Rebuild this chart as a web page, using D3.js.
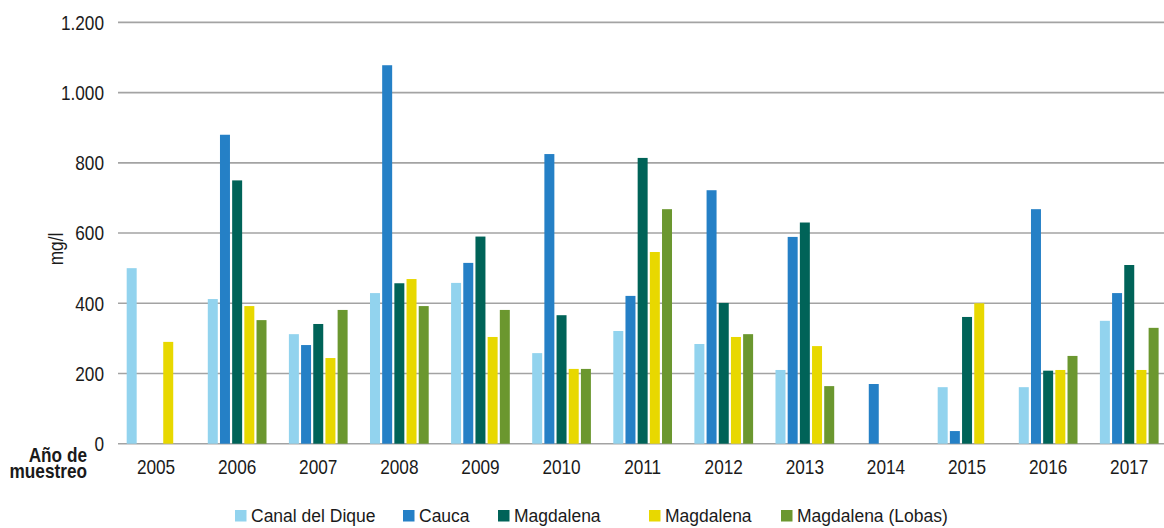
<!DOCTYPE html>
<html>
<head>
<meta charset="utf-8">
<script src="https://cdn.jsdelivr.net/npm/d3@7/dist/d3.min.js"></script>
<style>
  html, body { margin: 0; padding: 0; background: #fff; }
  svg { display: block; }
  text { font-family: "Liberation Sans", Arial, sans-serif; }
</style>
</head>
<body>
<svg id="chart" width="1164" height="528"></svg>
<script>
// Sampling years
const years = ["2005","2006","2007","2008","2009","2010","2011","2012","2013","2014","2015","2016","2017"];

// Series names as shown in the legend
const seriesNames = ["Canal del Dique", "Cauca", "Magdalena", "Magdalena", "Magdalena (Lobas)"];

// Concentrations (mg/l); null = no sample that year
const canalDelDique   = [500, 412, 312, 429, 458, 258, 321, 284, 210, null, 161, 161, 350];
const cauca           = [null, 880, 281, 1078, 515, 825, 421, 722, 589, 170, 36, 668, 429];
const magdalena       = [null, 750, 341, 457, 590, 366, 814, 401, 630, null, 361, 208, 509];
const magdalena2      = [290, 392, 244, 469, 304, 213, 546, 304, 278, null, 400, 210, 210];
const magdalenaLobas  = [null, 352, 381, 392, 381, 213, 668, 312, 164, null, null, 250, 330];

const yTicks = [0, 200, 400, 600, 800, 1000, 1200];

const colors = ["#92d3ee", "#2580c6", "#006358", "#e8d800", "#6b972f"];

const seriesValues = [canalDelDique, cauca, magdalena, magdalena2, magdalenaLobas];

const svg = d3.select("#chart");

// Condensed look for axis text: regular face squeezed horizontally
const SQUEEZE = 0.82;
function narrowText(parent, px, py, str, opts = {}) {
  const g = parent.append("g")
    .attr("transform", `translate(${px},${py})${opts.rotate ? ` rotate(${opts.rotate})` : ""} scale(${SQUEEZE},1)`);
  return g.append("text")
    .attr("text-anchor", opts.anchor || "start")
    .attr("dy", opts.dy || null)
    .attr("font-size", opts.size || 21)
    .attr("font-weight", opts.weight || null)
    .attr("fill", "#1a1a1a")
    .text(str);
}

const x = d3.scaleBand().domain(years).range([115.5, 1169.8]).paddingInner(0).paddingOuter(0);
const y = d3.scaleLinear().domain([0, 1200]).range([443.7, 22.4]);

// Bars inside each year group
const inner = d3.scaleBand().domain(d3.range(seriesNames.length))
  .range([x.bandwidth() * 0.138, x.bandwidth() * 0.862]).paddingInner(0.18);

const fmt = v => d3.format(",")(v).replace(/,/g, ".");

// Gridlines
svg.append("g").selectAll("line").data(yTicks).join("line")
  .attr("x1", 118).attr("x2", 1164)
  .attr("y1", d => y(d)).attr("y2", d => y(d))
  .attr("stroke", "#a3a3a3").attr("stroke-width", 1.6);

// Y tick labels
const yLab = svg.append("g");
yTicks.forEach(t => narrowText(yLab, 104, y(t), fmt(t), { anchor: "end", dy: "0.35em" }));

// Bars
const groups = svg.append("g").selectAll("g").data(years).join("g")
  .attr("transform", d => `translate(${x(d)},0)`);

groups.selectAll("rect")
  .data((yr, i) => seriesValues.map((vals, s) => ({ s, v: vals[i] })).filter(d => d.v != null))
  .join("rect")
  .attr("x", d => inner(d.s))
  .attr("width", inner.bandwidth())
  .attr("y", d => y(d.v))
  .attr("height", d => y(0) - y(d.v))
  .attr("fill", d => colors[d.s]);

// Year labels
const xLab = svg.append("g");
years.forEach(yr => narrowText(xLab, x(yr) + x.bandwidth() / 2, 473.5, yr, { anchor: "middle" }));

// Category axis title
const xt = svg.append("g");
narrowText(xt, 87, 462, "Año de", { anchor: "end", weight: "bold" });
narrowText(xt, 87, 478, "muestreo", { anchor: "end", weight: "bold" });

// Value axis title
narrowText(svg, 63, 249, "mg/l", { anchor: "middle", rotate: -90 });

// Legend
const legendX = [235, 403, 498, 649, 781];
const lg = svg.append("g").selectAll("g").data(seriesNames).join("g")
  .attr("transform", (d, i) => `translate(${legendX[i]},510)`);
lg.append("rect").attr("width", 11.5).attr("height", 11.5).attr("fill", (d, i) => colors[i]);
lg.append("text").attr("x", 16).attr("y", 11.8)
  .attr("font-size", 17.5).attr("fill", "#1a1a1a").text(d => d);
</script>
</body>
</html>
